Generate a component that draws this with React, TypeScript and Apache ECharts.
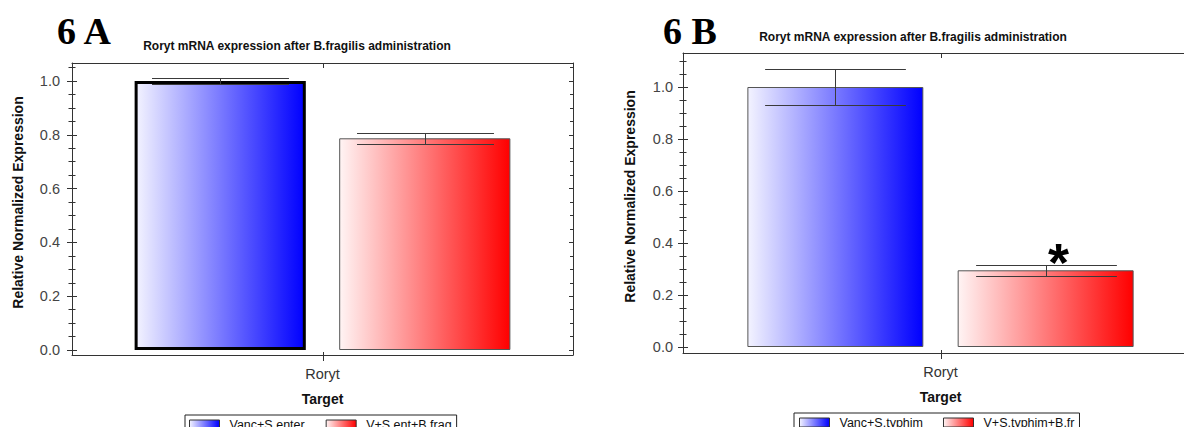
import React, { useEffect, useRef } from "react";
import * as echarts from "echarts";

// ---------- data ----------
const categories = ["Roryt"];
const seriesNamesA = ["Vanc+S enter", "V+S.ent+B.frag"];
const valuesA = [1.0, 0.787];
const errorsA = [0.011, 0.02];
const significantA = [0, 0];
const seriesNamesB = ["Vanc+S.typhim", "V+S.typhim+B.fr"];
const valuesB = [1.0, 0.295];
const errorsB = [0.07, 0.02];
const significantB = [0, 1];
const yTickValues = [0, 0.2, 0.4, 0.6, 0.8, 1.0];
const panelLabels = ["6 A", "6 B"];
const chartTitle = "Roryt mRNA expression after B.fragilis administration";
const yName = "Relative Normalized Expression";
const xName = "Target";

// ---------- layout / style ----------
const CAT_GAP = 0.25;
const BAR_GAP = 0.195;
const FONT = '"Liberation Sans", Arial, sans-serif';
const AXIS_COLOR = "#333";

const blueGrad = () =>
  new echarts.graphic.LinearGradient(0, 0, 1, 0, [
    { offset: 0, color: "#f3f3ff" },
    { offset: 1, color: "#0000ff" },
  ]);
const redGrad = () =>
  new echarts.graphic.LinearGradient(0, 0, 1, 0, [
    { offset: 0, color: "#fff4f4" },
    { offset: 1, color: "#ff0000" },
  ]);

function errorRenderer(params: any, api: any) {
  const cat = api.value(0);
  const val = api.value(1);
  const err = api.value(2);
  const side = api.value(3);
  const sig = api.value(4);
  const base = api.coord([cat, val]);
  const band = api.size([1, 0])[0];
  const barW = (band * (1 - CAT_GAP)) / (2 + BAR_GAP);
  const cx = Math.round(base[0] + (side * barW * (1 + BAR_GAP)) / 2) + 0.5;
  const yHi = Math.round(api.coord([cat, val + err])[1]) + 0.5;
  const yLo = Math.round(api.coord([cat, val - err])[1]) + 0.5;
  const half = barW * 0.4;
  const st = { stroke: "#3a3a3a", lineWidth: 1 };
  const children: any[] = [
    { type: "line", shape: { x1: cx, y1: yHi, x2: cx, y2: yLo }, style: st },
    { type: "line", shape: { x1: cx - half, y1: yHi, x2: cx + half, y2: yHi }, style: st },
    { type: "line", shape: { x1: cx - half, y1: yLo, x2: cx + half, y2: yLo }, style: st },
  ];
  if (sig) {
    children.push({
      type: "text",
      x: cx + 12,
      y: yHi - 4,
      style: {
        text: "*",
        font: `bold 54px ${FONT}`,
        fill: "#000",
        align: "center",
        verticalAlign: "middle",
      },
    });
  }
  return { type: "group", children };
}

// tick marks at the category centre on the bottom and top frame lines
function categoryTickRenderer(params: any, api: any) {
  const cs = params.coordSys;
  const x = Math.round(api.coord([api.value(0), 0])[0]) + 0.5;
  const bottom = cs.y + cs.height;
  const top = cs.y;
  const st = { stroke: AXIS_COLOR, lineWidth: 1 };
  return {
    type: "group",
    children: [
      { type: "line", shape: { x1: x, y1: bottom - 3, x2: x, y2: bottom + 6 }, style: st },
      { type: "line", shape: { x1: x, y1: top, x2: x, y2: top + 5 }, style: st },
    ],
  };
}

function panelAxes(
  gridIndex: number,
  yMin: number,
  yMax: number,
  labelMargin: number,
  nameGap: number
) {
  const xBottom = {
    type: "category",
    gridIndex,
    data: categories,
    position: "bottom",
    boundaryGap: true,
    axisLine: { onZero: false, lineStyle: { color: AXIS_COLOR, width: 1 } },
    axisTick: { show: false },
    axisLabel: { fontSize: 14.5, color: "#333", fontFamily: FONT, margin: 11 },
    name: xName,
    nameLocation: "middle",
    nameGap: 37,
    nameTextStyle: { fontSize: 14, fontWeight: "bold", color: "#111", fontFamily: FONT },
    splitLine: { show: false },
  };
  const xTop = {
    type: "category",
    gridIndex,
    data: categories,
    position: "top",
    boundaryGap: true,
    axisLine: { onZero: false, lineStyle: { color: AXIS_COLOR, width: 1 } },
    axisTick: { show: false },
    axisLabel: { show: false },
    splitLine: { show: false },
  };
  const fmt = (v: number) =>
    Math.abs(v / 0.2 - Math.round(v / 0.2)) < 1e-6 ? v.toFixed(1) : "";
  const yMain = {
    type: "value",
    gridIndex,
    min: yMin,
    max: yMax,
    position: "left",
    axisLine: { show: true, lineStyle: { color: AXIS_COLOR, width: 1 } },
    axisTick: { show: true, length: 5, customValues: yTickValues, lineStyle: { color: AXIS_COLOR } },
    minorTick: { show: true, splitNumber: 4, length: 3.5, lineStyle: { color: AXIS_COLOR } },
    axisLabel: {
      fontSize: 14.5,
      color: "#444",
      fontFamily: FONT,
      margin: labelMargin,
      customValues: yTickValues,
      formatter: fmt,
    },
    splitLine: { show: false },
    minorSplitLine: { show: false },
    name: yName,
    nameLocation: "middle",
    nameRotate: 90,
    nameGap,
    nameTextStyle: {
      fontSize: 14,
      fontWeight: "bold",
      color: "#111",
      fontFamily: FONT,
      padding: [0, 0, 0, 13],
    },
  };
  const yInner = {
    type: "value",
    gridIndex,
    min: yMin,
    max: yMax,
    position: "left",
    axisLine: { show: false },
    axisTick: { show: true, inside: true, length: 5, customValues: yTickValues, lineStyle: { color: AXIS_COLOR } },
    minorTick: { show: true, splitNumber: 4, length: 3.5, lineStyle: { color: AXIS_COLOR } },
    axisLabel: { show: false },
    splitLine: { show: false },
  };
  const yRight = {
    type: "value",
    gridIndex,
    min: yMin,
    max: yMax,
    position: "right",
    axisLine: { show: true, lineStyle: { color: AXIS_COLOR, width: 1 } },
    axisTick: { show: true, inside: true, length: 4, customValues: yTickValues, lineStyle: { color: AXIS_COLOR } },
    minorTick: { show: true, splitNumber: 4, length: 3, lineStyle: { color: AXIS_COLOR } },
    axisLabel: { show: false },
    splitLine: { show: false },
  };
  return { x: [xBottom, xTop], y: [yMain, yInner, yRight] };
}

function barSeries(
  names: string[],
  values: number[],
  xAxisIndex: number,
  yAxisIndex: number,
  thickFirst: boolean
) {
  return names.map((name, i) => ({
    type: "bar",
    name,
    xAxisIndex,
    yAxisIndex,
    data: [values[i]],
    barCategoryGap: `${CAT_GAP * 100}%`,
    barGap: `${BAR_GAP * 100}%`,
    itemStyle: {
      color: i === 0 ? blueGrad() : redGrad(),
      borderColor: i === 0 && thickFirst ? "#000" : "#555",
      borderWidth: i === 0 && thickFirst ? 3 : 1,
    },
    emphasis: { disabled: true },
    z: 2,
  }));
}

function errorSeries(
  values: number[],
  errors: number[],
  sig: number[],
  xAxisIndex: number,
  yAxisIndex: number
) {
  return {
    type: "custom",
    xAxisIndex,
    yAxisIndex,
    silent: true,
    z: 5,
    renderItem: errorRenderer,
    data: values.map((v, i) => [0, v, errors[i], i === 0 ? -1 : 1, sig[i]]),
  };
}

function tickSeries(xAxisIndex: number, yAxisIndex: number) {
  return {
    type: "custom",
    xAxisIndex,
    yAxisIndex,
    silent: true,
    z: 6,
    renderItem: categoryTickRenderer,
    data: categories.map((_, i) => [i, 0]),
  };
}

export default function App() {
  const ref = useRef<HTMLDivElement>(null);

  useEffect(() => {
    if (!ref.current) return;
    const chart = echarts.init(ref.current, null, { renderer: "svg" });

    const axA = panelAxes(0, -5 / 269, 287 / 269, 12, 47);
    const axB = panelAxes(1, -6 / 260, 294 / 260, 10, 46);

    const legendCommon = {
      orient: "horizontal",
      borderColor: "#222",
      borderWidth: 1,
      itemWidth: 30,
      itemHeight: 9,
      selectedMode: false,
      icon: "rect",
      itemStyle: { borderColor: "#333", borderWidth: 1 },
      textStyle: { fontSize: 12.5, color: "#111", fontFamily: FONT, padding: [0, 0, 0, 5] },
    };

    const titleStyle = { fontSize: 12, fontWeight: "bold", color: "#111", fontFamily: FONT };

    chart.setOption({
      animation: false,
      backgroundColor: "#fff",
      title: [
        { text: chartTitle, left: 297, top: 40, textAlign: "center", padding: 0, textStyle: titleStyle },
        { text: chartTitle, left: 913, top: 31, textAlign: "center", padding: 0, textStyle: titleStyle },
      ],
      graphic: [
        {
          type: "text",
          left: 57,
          top: 12,
          style: { text: panelLabels[0], font: 'bold 38px "Liberation Serif", serif', fill: "#000" },
        },
        {
          type: "text",
          left: 663,
          top: 12,
          style: { text: panelLabels[1], font: 'bold 38px "Liberation Serif", serif', fill: "#000" },
        },
      ],
      legend: [
        {
          ...legendCommon,
          data: seriesNamesA,
          left: 185,
          top: 415,
          padding: [3, 5, 3, 4],
          itemGap: 21,
        },
        {
          ...legendCommon,
          data: seriesNamesB,
          left: 794,
          top: 413,
          padding: [3, 5, 3, 5],
          itemGap: 20,
        },
      ],
      grid: [
        { left: 72, top: 63, width: 501, height: 292, containLabel: false, outerBoundsMode: "none" },
        { left: 683, top: 53, width: 515, height: 300, containLabel: false, outerBoundsMode: "none" },
      ],
      xAxis: [...axA.x, ...axB.x],
      yAxis: [...axA.y, ...axB.y],
      series: [
        ...barSeries(seriesNamesA, valuesA, 0, 0, true),
        errorSeries(valuesA, errorsA, significantA, 0, 0),
        tickSeries(0, 0),
        ...barSeries(seriesNamesB, valuesB, 2, 3, false),
        errorSeries(valuesB, errorsB, significantB, 2, 3),
        tickSeries(2, 3),
      ],
    });

    return () => chart.dispose();
  }, []);

  return (
    <div
      ref={ref}
      style={{ position: "absolute", left: 0, top: 0, width: 1184, height: 427, background: "#fff" }}
    />
  );
}
